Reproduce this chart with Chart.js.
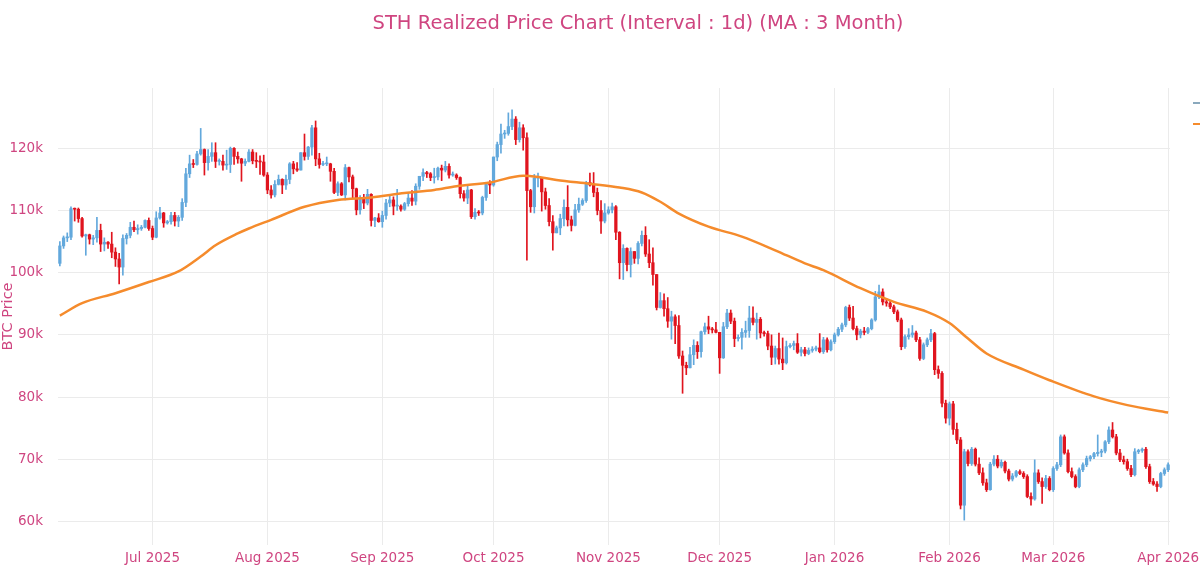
<!DOCTYPE html>
<html>
<head>
<meta charset="utf-8">
<script src="https://cdn.jsdelivr.net/npm/chart.js@4.4.1/dist/chart.umd.min.js"></script>
<style>
html,body{margin:0;padding:0;background:#fff;overflow:hidden;width:1200px;height:577px}
#wrap{position:relative;width:1276px;height:577px}
.leg{position:absolute;left:1193px;font:13px "DejaVu Sans";color:#444;white-space:nowrap;display:flex;align-items:center}
.leg i{display:inline-block;width:20px;height:2px;margin-right:6px}
</style>
</head>
<body>
<div id="wrap">
<canvas id="chart"></canvas>
<div class="leg" style="top:95px"><i style="background:#8aa9bd"></i>BTC Price</div>
<div class="leg" style="top:116px"><i style="background:#f58b2c"></i>STH Realized Price</div>
</div>
<script>
// day index 0 = 6 Jun 2025, one candle per day, prices in thousand USD
const monthTicks=[25,56,87,117,148,178,209,240,268,299];
const monthLabels=['Jul 2025','Aug 2025','Sep 2025','Oct 2025','Nov 2025','Dec 2025','Jan 2026','Feb 2026','Mar 2026','Apr 2026'];
const priceTicks=[60,70,80,90,100,110,120];

const opens=[
101.5,104.3,105.6,105.7,110.3,110.2,108.7,105.9,106.1,105.4,
105.6,106.8,104.6,104.9,104.6,103.3,102.2,100.9,105.5,106.0,
107.3,106.9,107.1,107.3,108.4,107.1,105.7,108.8,109.6,108.0,
108.2,109.2,108.3,108.9,111.3,115.9,117.5,117.4,119.1,119.8,
117.7,118.7,119.3,117.9,117.9,117.3,117.4,120.0,118.7,118.3,
117.6,117.9,119.4,118.0,117.9,117.8,115.7,113.3,112.5,114.2,
115.0,114.1,115.0,117.5,116.7,116.5,119.3,118.7,120.2,123.3,
118.3,117.4,117.5,117.5,116.3,112.9,114.3,112.5,116.9,115.4,
113.5,110.1,111.8,111.2,112.6,108.4,108.8,108.2,109.2,111.2,
111.7,110.7,110.7,110.2,111.1,112.0,111.5,113.9,115.5,116.1,
115.9,115.3,115.4,116.8,116.5,117.1,115.7,115.7,115.3,112.7,
112.0,113.3,109.0,109.7,109.6,112.1,114.4,114.1,118.6,120.6,
122.3,122.4,123.5,124.7,121.4,123.3,121.7,113.2,110.6,115.2,
115.3,113.0,110.8,108.2,106.4,107.2,108.7,110.5,108.5,107.6,
110.1,111.0,111.6,114.5,114.1,112.9,110.0,108.3,109.6,110.1,
110.6,106.5,101.6,103.9,101.3,103.4,102.3,104.7,106.0,103.0,
101.6,99.7,94.4,95.5,94.2,92.2,92.9,91.5,86.6,85.1,
84.7,86.8,88.3,87.3,90.5,91.3,90.9,90.8,90.4,86.3,
91.3,93.5,92.2,89.4,89.6,90.4,90.7,92.7,92.0,92.5,
90.3,90.2,88.2,86.4,87.8,86.1,85.5,88.1,88.3,88.6,
87.2,87.6,87.0,87.5,87.7,87.9,87.3,89.2,87.6,88.9,
90.0,90.9,91.6,94.4,92.7,91.0,90.0,90.6,90.4,91.0,
92.4,96.1,96.9,95.3,95.1,94.5,93.7,92.4,88.1,89.7,
90.0,90.3,89.2,86.2,88.4,89.2,90.2,84.4,83.8,79.0,
76.6,78.9,74.8,73.1,62.6,71.2,69.3,71.6,69.2,67.8,
66.2,65.1,69.2,70.0,68.9,69.5,68.1,66.8,67.3,68.0,
67.7,67.2,64.0,63.6,67.8,66.4,65.6,66.9,65.1,68.5,
69.1,73.6,71.0,68.0,67.2,65.6,68.3,69.1,70.1,70.4,
70.9,71.1,71.3,72.8,74.7,73.6,71.0,69.9,69.6,68.5,
67.5,71.2,71.4,71.6,68.8,66.4,66.0,65.6,67.7,68.3];

const highs=[
105.0,105.9,106.4,110.6,110.4,110.4,108.9,106.2,106.2,106.0,
108.9,107.8,105.6,105.0,106.5,104.0,103.1,106.1,106.3,108.1,
108.3,107.7,107.6,108.5,108.8,107.5,109.8,110.5,109.7,108.4,
109.7,109.7,109.2,111.9,116.8,118.9,118.2,119.5,123.2,119.9,
119.8,120.9,120.9,118.3,118.9,119.7,120.2,120.1,119.4,118.4,
118.3,119.8,119.8,119.3,118.8,118.9,116.1,114.0,114.8,115.7,
115.1,115.7,117.7,117.9,117.7,119.3,122.3,120.3,123.7,124.4,
119.2,117.9,118.6,117.6,116.8,114.6,114.5,117.4,117.0,115.7,
113.6,112.4,112.6,113.4,112.7,108.9,109.5,109.9,111.8,112.6,
112.2,113.4,110.9,111.3,112.8,113.2,114.3,115.5,116.7,116.3,
116.1,116.8,117.0,117.3,117.9,117.5,116.2,115.9,115.4,113.2,
114.0,113.4,110.3,110.0,112.3,114.5,114.8,118.6,121.0,123.9,
122.9,125.7,126.2,125.1,124.2,123.8,122.5,113.4,115.8,116.0,
115.3,113.6,111.9,109.2,107.5,109.4,111.7,114.0,109.1,111.0,
112.0,111.9,114.7,116.0,116.1,113.6,111.6,111.1,110.6,111.2,
110.8,106.6,104.5,104.0,104.0,103.4,105.0,106.7,107.4,105.3,
104.0,99.7,96.8,96.6,96.0,93.8,93.2,93.1,87.4,85.6,
88.0,89.2,88.9,90.6,91.9,93.0,91.2,92.0,90.4,92.0,
94.1,94.0,92.7,90.0,91.0,92.2,94.6,94.5,93.5,92.8,
90.6,90.6,90.0,88.2,90.3,89.5,89.0,88.6,89.0,90.2,
88.0,88.0,87.9,88.1,88.2,90.2,89.6,89.5,89.2,90.3,
91.2,91.9,94.6,94.8,94.6,91.4,90.9,91.2,91.2,92.6,
97.0,98.0,97.4,95.8,95.4,94.8,94.0,92.7,90.0,91.0,
91.5,90.6,89.6,88.7,89.5,90.9,90.4,85.0,84.1,79.5,
79.2,79.3,75.8,73.5,71.6,71.5,71.9,71.8,70.2,68.6,
66.8,69.5,70.6,70.6,69.9,69.7,68.4,67.7,68.2,68.3,
68.0,67.5,64.6,69.9,68.3,67.0,67.4,67.2,68.8,69.5,
73.9,73.9,71.5,68.6,67.5,68.6,69.4,70.5,70.6,71.1,
73.9,71.6,73.0,75.2,75.9,74.0,71.6,70.5,70.0,69.0,
71.7,71.6,71.8,71.9,69.2,66.9,66.4,67.9,68.6,69.4];

const lows=[
101.1,103.9,105.0,105.3,108.3,108.1,105.7,102.8,104.6,104.5,
104.9,103.4,103.5,103.9,102.4,101.0,98.2,99.6,104.6,105.6,
106.6,106.2,106.8,107.2,106.8,105.3,105.6,108.6,107.3,107.8,
107.8,107.5,107.4,108.4,110.6,115.3,116.9,117.3,118.9,115.7,
116.5,117.9,116.9,117.3,116.5,116.6,116.1,117.4,117.6,114.7,
117.2,117.8,117.5,116.9,115.8,115.5,112.7,112.0,112.2,114.1,
112.7,113.4,114.3,115.9,116.3,116.5,118.1,118.2,118.9,117.2,
116.8,117.2,117.2,114.7,112.7,112.4,112.4,111.7,114.6,112.0,
109.3,109.4,110.3,110.9,107.5,107.4,108.1,107.3,108.6,110.6,
109.3,110.0,109.9,110.0,110.7,110.8,110.9,113.4,114.8,115.3,
114.8,114.4,114.9,114.8,116.2,115.2,115.5,115.0,112.0,111.5,
111.1,108.7,108.6,109.2,109.3,111.6,112.7,113.9,118.0,119.2,
121.6,122.1,123.0,120.6,121.0,119.7,102.0,109.7,109.6,113.8,
109.9,110.2,107.5,103.6,106.4,106.1,107.5,107.5,106.7,107.5,
109.7,110.8,111.3,113.9,112.2,109.3,106.3,108.0,109.4,109.6,
105.3,99.0,98.9,100.3,99.3,101.5,101.4,104.3,102.6,100.8,
98.0,94.0,94.3,93.0,91.2,89.3,88.6,86.2,80.6,83.6,
84.7,85.2,86.2,86.4,90.1,90.2,90.3,90.3,83.8,86.2,
91.0,91.8,88.1,89.0,87.7,89.6,89.6,91.6,89.3,89.5,
89.8,87.6,85.2,85.3,85.3,84.4,85.3,87.9,87.6,87.0,
86.6,86.6,86.8,87.2,87.4,87.1,87.0,87.2,87.4,88.6,
89.8,90.5,91.3,92.3,90.8,89.2,89.5,90.0,90.2,90.8,
92.2,95.8,94.8,94.6,94.2,93.4,92.1,87.6,87.8,89.3,
89.6,88.9,85.9,86.0,88.1,88.9,83.6,83.0,78.4,75.8,
75.5,74.0,72.5,62.0,60.2,68.9,69.0,68.9,67.5,65.8,
64.8,65.0,68.9,68.6,68.6,67.8,66.5,66.5,67.1,67.5,
66.9,63.8,62.6,63.4,66.1,62.9,65.3,64.9,64.8,68.2,
68.8,70.8,67.8,67.0,65.4,65.4,68.0,68.8,69.7,70.1,
70.5,70.4,71.0,72.5,73.4,70.7,69.6,69.2,68.2,67.2,
67.3,70.9,71.1,68.5,66.1,65.8,64.8,65.4,67.4,68.0];

const closes=[
104.3,105.6,105.7,110.3,110.2,108.7,105.9,106.1,105.4,105.6,
106.8,104.6,104.9,104.6,103.3,102.2,100.9,105.5,106.0,107.3,
106.9,107.1,107.3,108.4,107.1,105.7,108.8,109.6,108.0,108.2,
109.2,108.3,108.9,111.3,115.9,117.5,117.4,119.1,119.8,117.7,
118.7,119.3,117.9,117.9,117.3,117.4,120.0,118.7,118.3,117.6,
117.9,119.4,118.0,117.9,117.8,115.7,113.3,112.5,114.2,115.0,
114.1,115.0,117.5,116.7,116.5,119.3,118.7,120.2,123.3,118.3,
117.4,117.5,117.5,116.3,112.9,114.3,112.5,116.9,115.4,113.5,
110.1,111.8,111.2,112.6,108.4,108.8,108.2,109.2,111.2,111.7,
110.7,110.7,110.2,111.1,112.0,111.5,113.9,115.5,116.1,115.9,
115.3,115.4,116.8,116.5,117.1,115.7,115.7,115.3,112.7,112.0,
113.3,109.0,109.7,109.6,112.1,114.4,114.1,118.6,120.6,122.3,
122.4,123.5,124.7,121.4,123.3,121.7,113.2,110.6,115.2,115.3,
113.0,110.8,108.2,106.4,107.2,108.7,110.5,108.5,107.6,110.1,
111.0,111.6,114.5,114.1,112.9,110.0,108.3,109.6,110.1,110.6,
106.5,101.6,103.9,101.3,103.4,102.3,104.7,106.0,103.0,101.6,
99.7,94.4,95.5,94.2,92.2,92.9,91.5,86.6,85.1,84.7,
86.8,88.3,87.3,90.5,91.3,90.9,90.8,90.4,86.3,91.3,
93.5,92.2,89.4,89.6,90.4,90.7,92.7,92.0,92.5,90.3,
90.2,88.2,86.4,87.8,86.1,85.5,88.1,88.3,88.6,87.2,
87.6,87.0,87.5,87.7,87.9,87.3,89.2,87.6,88.9,90.0,
90.9,91.6,94.4,92.7,91.0,90.0,90.6,90.4,91.0,92.4,
96.1,96.9,95.3,95.1,94.5,93.7,92.4,88.1,89.7,90.0,
90.3,89.2,86.2,88.4,89.2,90.2,84.4,83.8,79.0,76.6,
78.9,74.8,73.1,62.6,71.2,69.3,71.6,69.2,67.8,66.2,
65.1,69.2,70.0,68.9,69.5,68.1,66.8,67.3,68.0,67.7,
67.2,64.0,63.6,67.8,66.4,65.6,66.9,65.1,68.5,69.1,
73.6,71.0,68.0,67.2,65.6,68.3,69.1,70.1,70.4,70.9,
71.1,71.3,72.8,74.7,73.6,71.0,69.9,69.6,68.5,67.5,
71.2,71.4,71.6,68.8,66.4,66.0,65.6,67.7,68.3,69.1];

// STH realized price, 3 month MA (read at these day indexes)
const maDays=[0,6,15,24,32,38,42,48,51,57,66,75,84,93,101,107,116,125,130,134,143,151,157,162,167,175,184,193,201,206,216,225,234,240,245,250,260,267,279,288,299];
const maValues=[93.1,95.1,96.7,98.5,100.2,102.6,104.4,106.3,107.1,108.5,110.6,111.7,112.1,112.8,113.3,113.9,114.5,115.6,115.3,114.9,114.3,113.7,112.9,111.4,109.5,107.4,105.8,103.6,101.5,100.4,97.5,95.3,93.7,91.9,89.4,87.0,84.4,82.7,80.1,78.7,77.5];

const UP='#62a8dc', DOWN='#e0141e', PINK='#cf4580';
const candleColor=ctx=>closes[ctx.dataIndex]>=opens[ctx.dataIndex]?UP:DOWN;
const days=closes.map((_,i)=>i);

new Chart(document.getElementById('chart'),{
  type:'bar',
  data:{datasets:[
    {type:'line',label:'STH Realized Price',data:maDays.map((d,i)=>({x:d,y:maValues[i]})),borderColor:'#f58b2c',borderWidth:2.5,pointRadius:0,cubicInterpolationMode:'monotone',order:0},
    {label:'Body',data:days.map(i=>({x:i,y:[opens[i],closes[i]]})),backgroundColor:candleColor,barThickness:2.6,minBarLength:1,grouped:false,order:1},
    {label:'Wick',data:days.map(i=>({x:i,y:[lows[i],highs[i]]})),backgroundColor:candleColor,barThickness:1,grouped:false,order:2}
  ]},
  options:{
    animation:false,responsive:true,maintainAspectRatio:false,
    plugins:{
      legend:{display:false},tooltip:{enabled:false},
      title:{display:true,text:'STH Realized Price Chart (Interval : 1d) (MA : 3 Month)',color:PINK,
        font:{family:'DejaVu Sans',size:19.5,weight:'normal'},padding:{top:12,bottom:52.6}}
    },
    scales:{
      x:{type:'linear',min:-0.5,max:299.5,offset:false,
        afterBuildTicks:s=>{s.ticks=monthTicks.map(v=>({value:v}));},
        afterFit:s=>{s.height=32;},
        ticks:{autoSkip:false,maxRotation:0,padding:5,color:PINK,font:{family:'DejaVu Sans',size:13.5},
          callback:(v,i)=>monthLabels[i]},
        grid:{color:'#ebebeb',drawTicks:false,offset:false},border:{display:false}},
      y:{min:56.2,max:129.7,
        afterBuildTicks:s=>{s.ticks=priceTicks.map(v=>({value:v}));},
        afterFit:s=>{s.width=58;},
        ticks:{padding:15,color:PINK,font:{family:'DejaVu Sans',size:13.5},callback:v=>v+'k'},
        title:{display:true,text:'BTC Price',color:PINK,font:{family:'DejaVu Sans',size:14.5},padding:{top:0,bottom:0}},
        grid:{color:'#ebebeb',drawTicks:false},border:{display:false}},
      // empty strip on the right where the (cut off) legend sits
      side:{position:'right',afterFit:s=>{s.width=106;},ticks:{display:false},grid:{display:false},border:{display:false}}
    }
  }
});
</script>
</body>
</html>
